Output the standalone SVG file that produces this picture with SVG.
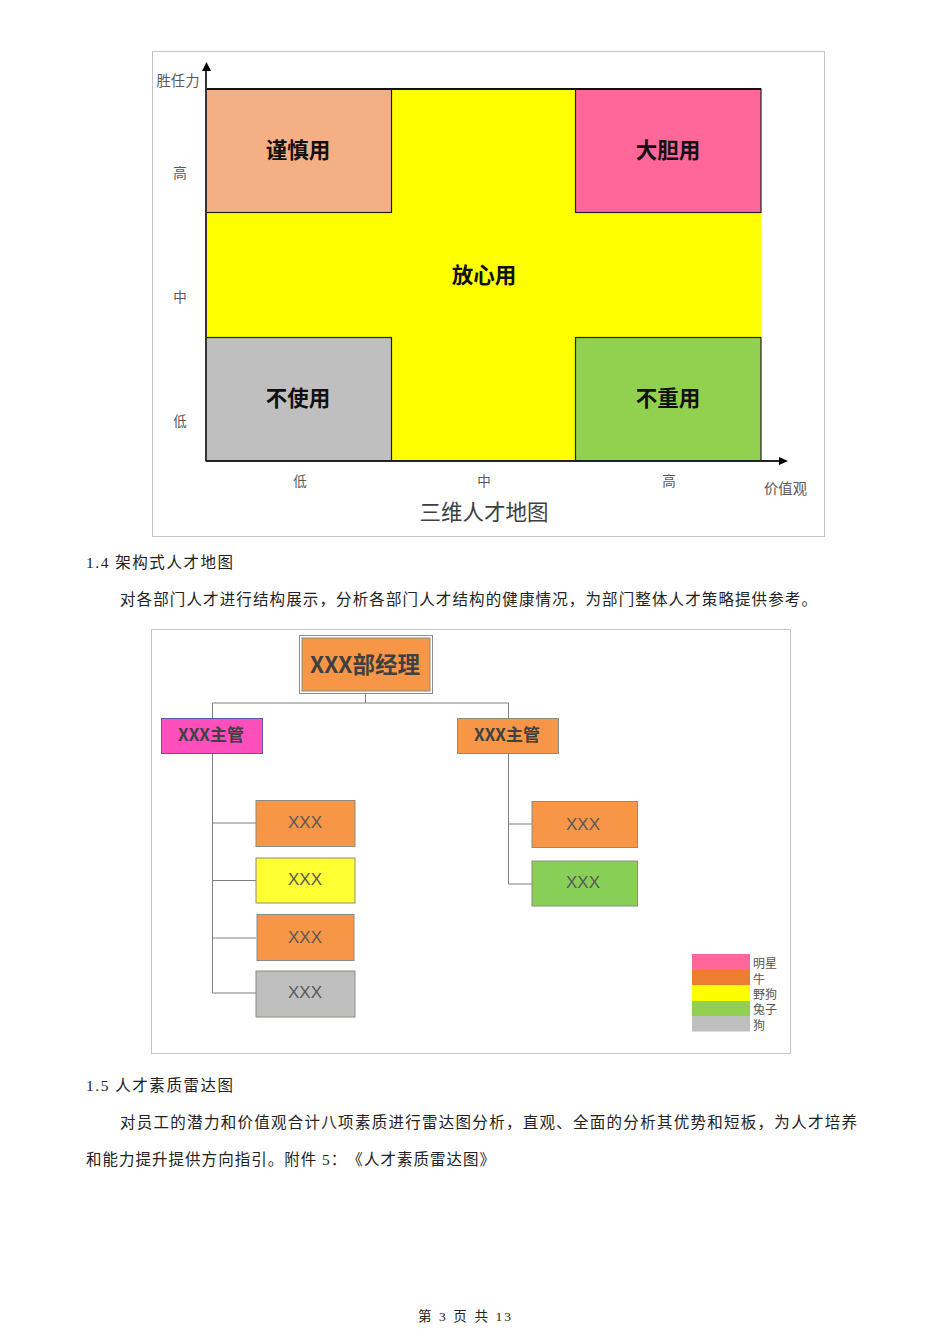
<svg xmlns="http://www.w3.org/2000/svg" width="950" height="1344" viewBox="0 0 950 1344">
<style>
text{font-family:"Noto Sans CJK SC","Liberation Sans",sans-serif;fill:#404040}
.body{font-family:"Liberation Serif","Noto Sans CJK SC",serif;font-size:15.500px;fill:#222;text-spacing-trim:space-all}
.ax{font-size:13.500px;text-anchor:middle;fill:#595959}
.q{font-size:21.500px;font-weight:700;text-anchor:middle;fill:#111}
.frame{fill:#fff;stroke:#c4c4c4;stroke-width:1}
.cell{stroke:#222;stroke-width:1.200}
.conn{fill:none;stroke:#7f7f7f;stroke-width:1}
.box{stroke:#8c8c80;stroke-width:1}
.leaf{font-size:17px;text-anchor:middle;fill:#595959;font-family:"Liberation Sans",sans-serif}
.sup{font-size:17px;font-weight:700;text-anchor:middle;fill:#404040}
.lg{font-size:12px;fill:#555}
</style>
<rect width="950" height="1344" fill="#fff"/>

<g id="talent-map">
<rect class="frame" x="152.500" y="51.500" width="672" height="485"/>
<rect x="206" y="89" width="555" height="372" fill="#ffff00"/>
<g id="cell-careful"><rect class="cell" x="206" y="89" width="185.500" height="123.500" fill="#f4b084"/><text class="q" x="298" y="158">谨慎用</text></g>
<g id="cell-bold"><rect class="cell" x="575.500" y="89" width="185.500" height="123.500" fill="#ff6699"/><text class="q" x="668" y="158">大胆用</text></g>
<g id="cell-assured"><text class="q" x="484" y="283">放心用</text></g>
<g id="cell-unused"><rect class="cell" x="206" y="337.500" width="185.500" height="123.500" fill="#bfbfbf"/><text class="q" x="298" y="406">不使用</text></g>
<g id="cell-noheavy"><rect class="cell" x="575.500" y="337.500" width="185.500" height="123.500" fill="#92d050"/><text class="q" x="668" y="406">不重用</text></g>
<path d="M206 89H761" stroke="#111" stroke-width="2" fill="none"/>
<g id="axes">
<path d="M206 461V70" stroke="#333" stroke-width="2" fill="none"/>
<path d="M206 461H780" stroke="#222" stroke-width="2" fill="none"/>
<path d="M206.500 62l-4.500 9h9z" fill="#000"/>
<path d="M788 461l-9-4v8z" fill="#000"/>
</g>
<text class="ax" x="178" y="86" style="font-size:14.300px">胜任力</text>
<text class="ax" x="180" y="178">高</text>
<text class="ax" x="180" y="302">中</text>
<text class="ax" x="180" y="426">低</text>
<text class="ax" x="300" y="486">低</text>
<text class="ax" x="484" y="486">中</text>
<text class="ax" x="669" y="486">高</text>
<text class="ax" x="785.500" y="494" style="font-size:14.300px">价值观</text>
<text x="484" y="520" text-anchor="middle" style="font-size:21.500px;fill:#404040">三维人才地图</text>
</g>

<text class="body" x="86" y="568" textLength="147" lengthAdjust="spacing">1.4 架构式人才地图</text>
<text class="body" x="120" y="605" textLength="697" lengthAdjust="spacing">对各部门人才进行结构展示，分析各部门人才结构的健康情况，为部门整体人才策略提供参考。</text>

<g id="org-chart">
<rect class="frame" x="151.500" y="629.500" width="639" height="424"/>
<g id="connectors">
<path class="conn" d="M365.500 694V703M212.500 718V703H508.500V718"/>
<path class="conn" d="M212.500 754V993H256M212.500 823H256M212.500 880.500H256M212.500 938H256"/>
<path class="conn" d="M508.500 754V884H532M508.500 824H532"/>
</g>
<g id="manager">
<rect x="299.500" y="635.500" width="133" height="58" fill="#fff" stroke="#8c8c8c"/>
<rect class="box" x="302" y="638" width="128" height="53" fill="#f79646"/>
<text x="365" y="673" text-anchor="middle" style="font-size:22.500px;font-weight:700;fill:#404040">XXX部经理</text>
</g>
<g id="sup-left"><rect x="161.500" y="718.500" width="101" height="35" fill="#ff4fbd" stroke="#5b5ba8"/><text class="sup" x="211" y="741">XXX主管</text></g>
<g id="sup-right"><rect class="box" x="457.500" y="718.500" width="101" height="35" fill="#f79646"/><text class="sup" x="507" y="741">XXX主管</text></g>
<g id="leaf-l1"><rect class="box" x="256" y="800.500" width="99" height="46" fill="#f79646"/><text class="leaf" x="305" y="827.500">XXX</text></g>
<g id="leaf-l2"><rect class="box" x="256" y="858" width="99" height="45" fill="#ffff33"/><text class="leaf" x="305" y="885">XXX</text></g>
<g id="leaf-l3"><rect class="box" x="257" y="914.500" width="97" height="46" fill="#f79646"/><text class="leaf" x="305" y="943">XXX</text></g>
<g id="leaf-l4"><rect class="box" x="256" y="971" width="99" height="46" fill="#bfbfbf"/><text class="leaf" x="305" y="998">XXX</text></g>
<g id="leaf-r1"><rect class="box" x="532" y="801.500" width="105.500" height="46" fill="#f79646"/><text class="leaf" x="583" y="830">XXX</text></g>
<g id="leaf-r2"><rect class="box" x="532" y="861" width="105.500" height="45" fill="#88cf58"/><text class="leaf" x="583" y="888">XXX</text></g>
<g id="legend">
<rect x="692" y="954" width="58" height="16" fill="#ff6699"/>
<rect x="692" y="970" width="58" height="15" fill="#ed7d31"/>
<rect x="692" y="985" width="58" height="16" fill="#ffff00"/>
<rect x="692" y="1001" width="58" height="15" fill="#92d050"/>
<rect x="692" y="1016" width="58" height="15.500" fill="#bfbfbf"/>
<text class="lg" x="753" y="968">明星</text>
<text class="lg" x="753" y="984">牛</text>
<text class="lg" x="753" y="999">野狗</text>
<text class="lg" x="753" y="1014">兔子</text>
<text class="lg" x="753" y="1030">狗</text>
</g>
</g>

<text class="body" x="86" y="1091" textLength="147" lengthAdjust="spacing">1.5 人才素质雷达图</text>
<text class="body" x="120" y="1128" textLength="737" lengthAdjust="spacing">对员工的潜力和价值观合计八项素质进行雷达图分析，直观、全面的分析其优势和短板，为人才培养</text>
<text class="body" x="86" y="1165" textLength="409" lengthAdjust="spacing">和能力提升提供方向指引。附件 5：《人才素质雷达图》</text>
<text class="body" x="418" y="1321" textLength="93" lengthAdjust="spacing" style="font-size:13.500px">第 3 页 共 13</text>
</svg>
